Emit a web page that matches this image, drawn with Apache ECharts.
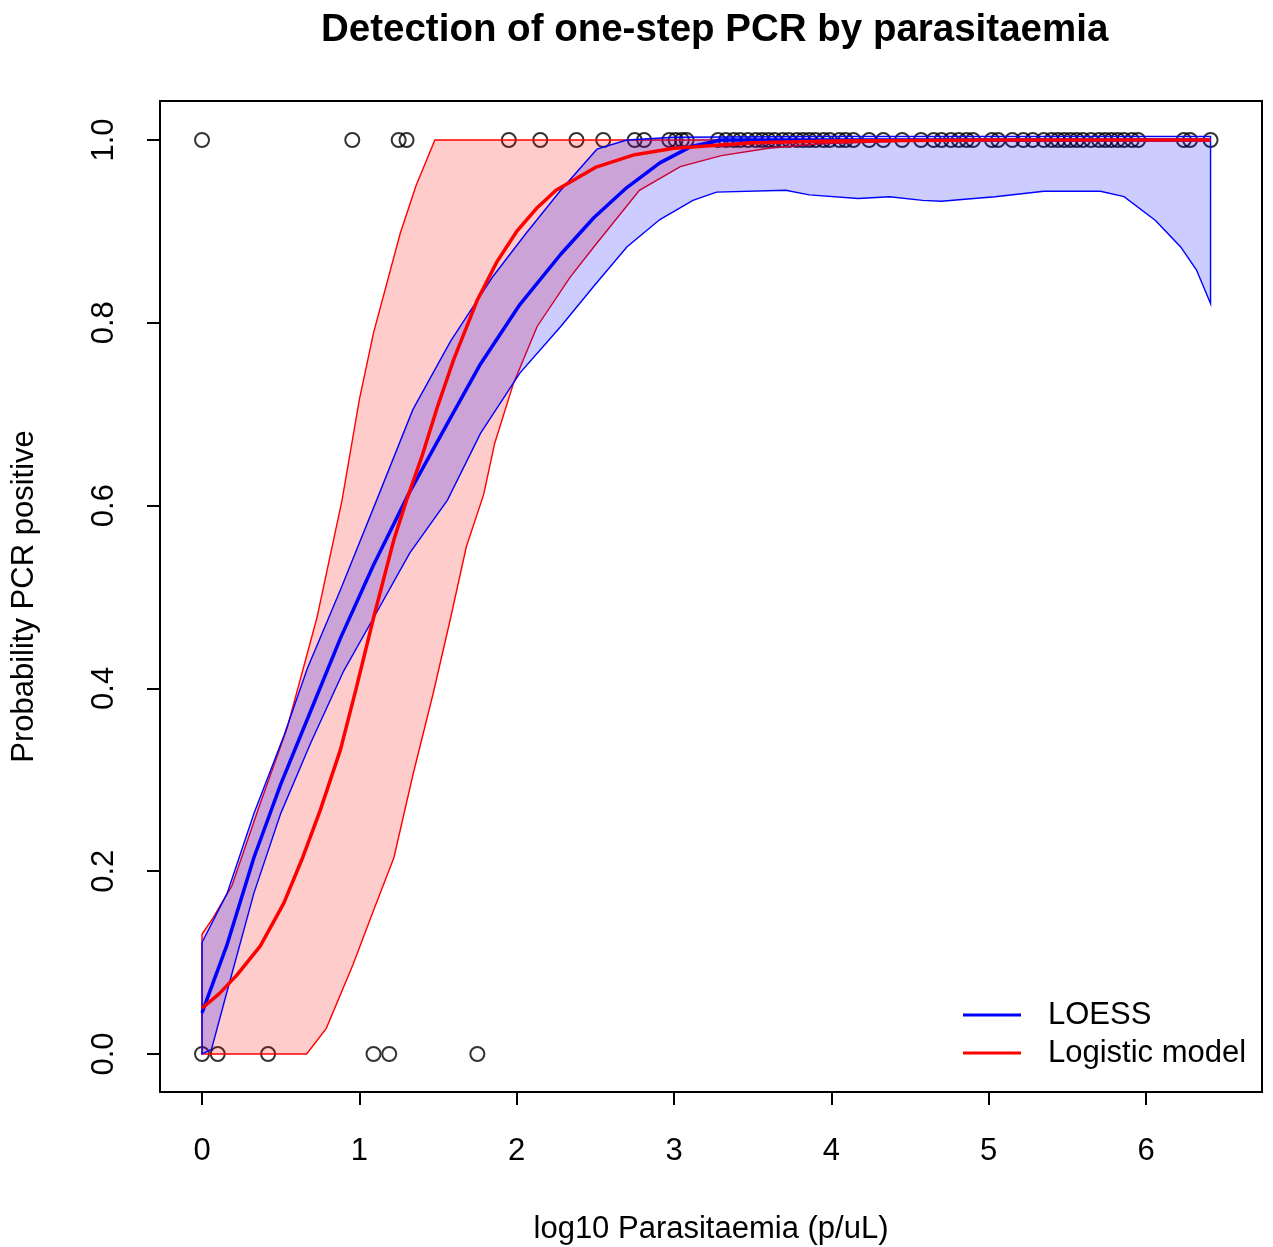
<!DOCTYPE html>
<html>
<head>
<meta charset="utf-8">
<script src="https://cdn.jsdelivr.net/npm/echarts@6/dist/echarts.min.js"></script>
<style>html,body{margin:0;padding:0;background:#fff}#c{width:1273px;height:1247px}</style>
</head>
<body>
<div id="c"></div>
<script>
// ---- data ----
const xTicks = [0, 1, 2, 3, 4, 5, 6];
const yTicks = [0, 0.2, 0.4, 0.6, 0.8, 1.0];

// observations: PCR positive (y = 1) and negative (y = 0)
const posX = [0.00, 0.955, 1.25, 1.30, 1.95, 2.15, 2.38, 2.55, 2.75, 2.81, 2.97, 3.01, 3.05, 3.08,
  3.28, 3.33, 3.38, 3.42, 3.47, 3.52, 3.56, 3.60, 3.64, 3.69, 3.73, 3.78, 3.82, 3.86, 3.90, 3.95, 3.99,
  4.05, 4.09, 4.14, 4.24, 4.33, 4.45, 4.57, 4.65, 4.70, 4.76, 4.81, 4.86, 4.90, 5.02, 5.06, 5.15, 5.22,
  5.28, 5.35, 5.40, 5.44, 5.48, 5.52, 5.56, 5.60, 5.65, 5.70, 5.74, 5.78, 5.82, 5.86, 5.91, 5.95,
  6.24, 6.28, 6.41];
const negX = [0.00, 0.10, 0.42, 1.09, 1.19, 1.75];

// LOESS fit and its band
const loessX = [0, 0.16, 0.33, 0.5, 0.69, 0.88, 1.09, 1.32, 1.56, 1.77, 2.02, 2.28, 2.49, 2.70, 2.91, 3.11, 3.3, 3.6, 4.0, 5.0, 6.0, 6.41];
const loessY = [0.045, 0.12, 0.215, 0.295, 0.375, 0.455, 0.535, 0.615, 0.69, 0.755, 0.82, 0.875, 0.915, 0.948, 0.975, 0.993, 1.0, 1.0, 1.0, 1.0, 1.0, 1.0];
const loessUpX = [0, 0.16, 0.33, 0.52, 0.67, 0.88, 1.11, 1.34, 1.58, 1.85, 2.06, 2.28, 2.51, 2.7, 3.0, 4.0, 5.0, 6.0, 6.41];
const loessUpY = [0.122, 0.176, 0.263, 0.348, 0.422, 0.508, 0.606, 0.705, 0.78, 0.851, 0.898, 0.945, 0.99, 1.0, 1.003, 1.004, 1.004, 1.004, 1.004];
const loessLoX = [0, 0.06, 0.157, 0.33, 0.50, 0.69, 0.90, 1.09, 1.32, 1.56, 1.77, 2.02, 2.28, 2.49, 2.70, 2.91, 3.12, 3.27,
  3.71, 3.86, 4.17, 4.37, 4.58, 4.70, 4.83, 5.04, 5.35, 5.71, 5.86, 6.06, 6.22, 6.32, 6.41];
const loessLoY = [0.0, 0.005, 0.067, 0.176, 0.263, 0.340, 0.419, 0.477, 0.548, 0.606, 0.679, 0.745, 0.796, 0.840, 0.883, 0.913, 0.934, 0.943,
  0.945, 0.940, 0.936, 0.938, 0.934, 0.933, 0.935, 0.938, 0.944, 0.944, 0.938, 0.912, 0.883, 0.858, 0.821];

// logistic model fit and its band
const logitX = [0, 0.11, 0.22, 0.37, 0.52, 0.64, 0.75, 0.88, 0.98, 1.09, 1.22, 1.30, 1.4, 1.5, 1.6, 1.75, 1.875, 2.0, 2.125, 2.25, 2.5, 2.75, 3.0, 3.5, 4.0, 5.0, 6.41];
const logitY = [0.05, 0.066, 0.086, 0.118, 0.165, 0.215, 0.266, 0.333, 0.40, 0.477, 0.563, 0.606, 0.655, 0.71, 0.76, 0.825, 0.867, 0.90, 0.925, 0.945, 0.97, 0.984, 0.991, 0.997, 0.999, 1.0, 1.0];
const logitUpX = [0, 0.07, 0.19, 0.37, 0.54, 0.73, 0.89, 1.0, 1.09, 1.26, 1.36, 1.48, 6.41];
const logitUpY = [0.131, 0.149, 0.184, 0.274, 0.356, 0.477, 0.606, 0.716, 0.789, 0.898, 0.950, 1.0, 1.0];
const logitLoX = [0, 0.665, 0.79, 0.96, 1.09, 1.22, 1.34, 1.47, 1.58, 1.68, 1.79, 1.86, 1.98, 2.13, 2.34, 2.49, 2.78, 3.04, 3.30, 3.60, 3.93, 4.5, 6.41];
const logitLoY = [0, 0, 0.028, 0.098, 0.157, 0.215, 0.305, 0.395, 0.477, 0.555, 0.612, 0.668, 0.734, 0.796, 0.850, 0.883, 0.945, 0.971, 0.983, 0.991, 0.996, 0.999, 1.0];

// ---- chart ----
const FONT = 'Liberation Sans, Arial, sans-serif';
const zip = (xs, ys) => xs.map((x, i) => [x, ys[i]]);

function band(name, upX, upY, loX, loY, fill, stroke, z) {
  return {
    name: name, type: 'custom', z: z, clip: true, silent: true,
    data: [[upX[0], upY[0]]],
    encode: { x: 0, y: 1 },
    renderItem: function (params, api) {
      const pts = [];
      for (let i = 0; i < upX.length; i++) pts.push(api.coord([upX[i], upY[i]]));
      for (let i = loX.length - 1; i >= 0; i--) pts.push(api.coord([loX[i], loY[i]]));
      return { type: 'polygon', shape: { points: pts }, style: { fill: fill, stroke: stroke, lineWidth: 1.4 } };
    }
  };
}

const chart = echarts.init(document.getElementById('c'), null, { renderer: 'canvas' });
chart.setOption({
  animation: false,
  backgroundColor: '#fff',
  textStyle: { fontFamily: FONT },
  title: {
    text: 'Detection of one-step PCR by parasitaemia',
    left: 316, top: 6,
    textStyle: { fontFamily: FONT, fontWeight: 'bold', fontSize: 38.5, color: '#000' }
  },
  grid: { left: 160, top: 101, right: 11, bottom: 155, outerBoundsMode: 'none', containLabel: false,
    show: true, borderColor: '#000', borderWidth: 2, backgroundColor: 'transparent' },
  xAxis: {
    type: 'value', min: -0.267, max: 6.737,
    name: 'log10 Parasitaemia (p/uL)', nameLocation: 'middle', nameGap: 122,
    nameTextStyle: { fontFamily: FONT, fontSize: 31, color: '#000' },
    axisLine: { show: false, onZero: false },
    axisTick: { show: true, customValues: xTicks, length: 13, lineStyle: { color: '#000', width: 2 } },
    axisLabel: { customValues: xTicks, margin: 44, fontFamily: FONT, fontSize: 31, color: '#000' },
    splitLine: { show: false }
  },
  yAxis: {
    type: 'value', min: -0.0416, max: 1.0427,
    name: 'Probability PCR positive', nameLocation: 'middle', nameGap: 120, nameRotate: 90,
    nameTextStyle: { fontFamily: FONT, fontSize: 31, color: '#000' },
    axisLine: { show: false, onZero: false },
    axisTick: { show: true, customValues: yTicks, length: 13, lineStyle: { color: '#000', width: 2 } },
    axisLabel: { customValues: yTicks, rotate: 90, margin: 40, fontFamily: FONT, fontSize: 31, color: '#000',
      formatter: v => v.toFixed(1) },
    splitLine: { show: false }
  },
  legend: {
    orient: 'vertical', left: 963, top: 996, padding: 0, itemGap: 0,
    itemWidth: 58, itemHeight: 3,
    textStyle: { fontFamily: FONT, fontSize: 31, color: '#000', lineHeight: 38, padding: [0, 0, 0, 22] },
    data: [{ name: 'LOESS', icon: 'rect' }, { name: 'Logistic model', icon: 'rect' }]
  },
  series: [
    {
      name: 'obs', type: 'scatter', z: 1, symbol: 'circle', symbolSize: 14,
      itemStyle: { color: 'rgba(0,0,0,0)', borderColor: '#000', borderWidth: 2 },
      data: posX.map(x => [x, 1]).concat(negX.map(x => [x, 0]))
    },
    band('logitBand', logitUpX, logitUpY, logitLoX, logitLoY, 'rgba(255,0,0,0.2)', '#ff0000', 2),
    band('loessBand', loessUpX, loessUpY, loessLoX, loessLoY, 'rgba(0,0,255,0.2)', '#0000ff', 3),
    {
      name: 'LOESS', type: 'line', z: 4, showSymbol: false, smooth: false,
      color: '#0000ff', lineStyle: { color: '#0000ff', width: 3.5 },
      data: zip(loessX, loessY)
    },
    {
      name: 'Logistic model', type: 'line', z: 5, showSymbol: false, smooth: false,
      color: '#ff0000', lineStyle: { color: '#ff0000', width: 3.5 },
      data: zip(logitX, logitY)
    }
  ]
});
</script>
</body>
</html>
